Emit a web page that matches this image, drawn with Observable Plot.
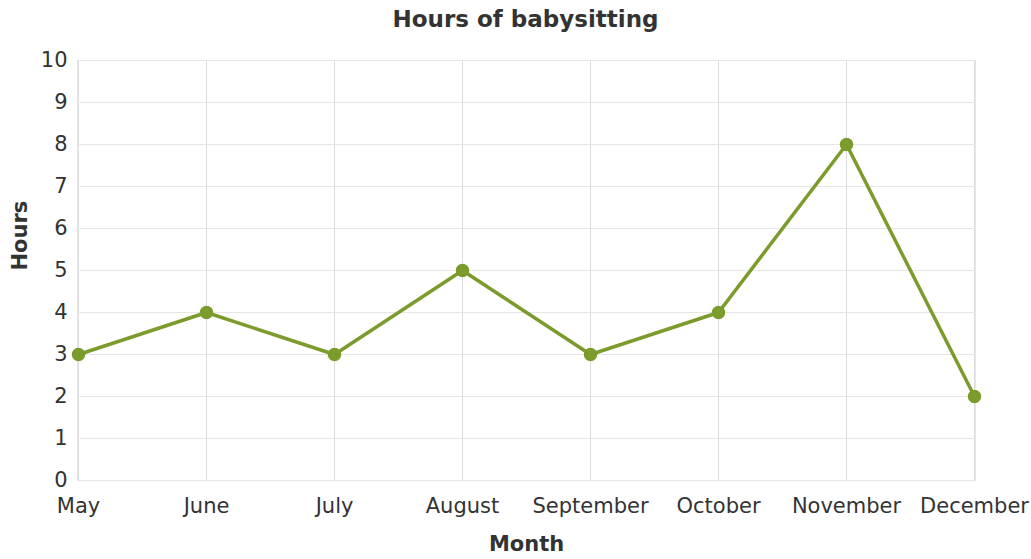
<!DOCTYPE html>
<html>
<head>
<meta charset="utf-8">
<script src="https://cdn.jsdelivr.net/npm/d3@7"></script>
<script src="https://cdn.jsdelivr.net/npm/@observablehq/plot@0.6"></script>
<style>
  body { margin: 0; background: #fff; font-family: "DejaVu Sans", Verdana, sans-serif; }
  #title { height: 40px; line-height: 38px; text-align: center; font-weight: bold; font-size: 23px; color: #333; padding-left: 20px; }
</style>
</head>
<body>
<div id="title">Hours of babysitting</div>
<div id="chart"></div>
<script>
const months = ["May", "June", "July", "August", "September", "October", "November", "December"];
const hours = [3, 4, 3, 5, 3, 4, 8, 2];
const yTicks = [0, 1, 2, 3, 4, 5, 6, 7, 8, 9, 10];

const data = months.map((m, i) => ({ month: m, hours: hours[i] }));
const green = "#7b9c2c";

const chart = Plot.plot({
  width: 1031,
  height: 519,
  marginLeft: 77,
  marginRight: 56,
  marginTop: 20,
  marginBottom: 79,
  style: { fontFamily: "DejaVu Sans, Verdana, sans-serif", fontSize: "21px", color: "#333", background: "#fff" },
  x: { type: "point", domain: months, padding: 0, label: null },
  y: { domain: [0, 10], ticks: yTicks, label: null },
  marks: [
    Plot.gridX(months, { stroke: "#ddd", strokeOpacity: 1 }),
    Plot.gridY(yTicks, { stroke: "#e6e6e6", strokeOpacity: 1 }),
    Plot.frame({ stroke: "#e6e6e6" }),
    Plot.axisX({ tickSize: 0, tickPadding: 18, fontSize: 21, fill: "#333" }),
    Plot.axisY(yTicks, { tickSize: 0, tickPadding: 10, fontSize: 21, fill: "#333" }),
    Plot.text(["Month"], { frameAnchor: "bottom", dy: 70, fontWeight: "bold", fontSize: 21, fill: "#333" }),
    Plot.text(["Hours"], { frameAnchor: "left", dx: -57, rotate: -90, fontWeight: "bold", fontSize: 21, fill: "#333" }),
    Plot.line(data, { x: "month", y: "hours", stroke: green, strokeWidth: 3.5 }),
    Plot.dot(data, { x: "month", y: "hours", r: 6, fill: green, stroke: green })
  ]
});
document.getElementById("chart").appendChild(chart);
</script>
</body>
</html>
